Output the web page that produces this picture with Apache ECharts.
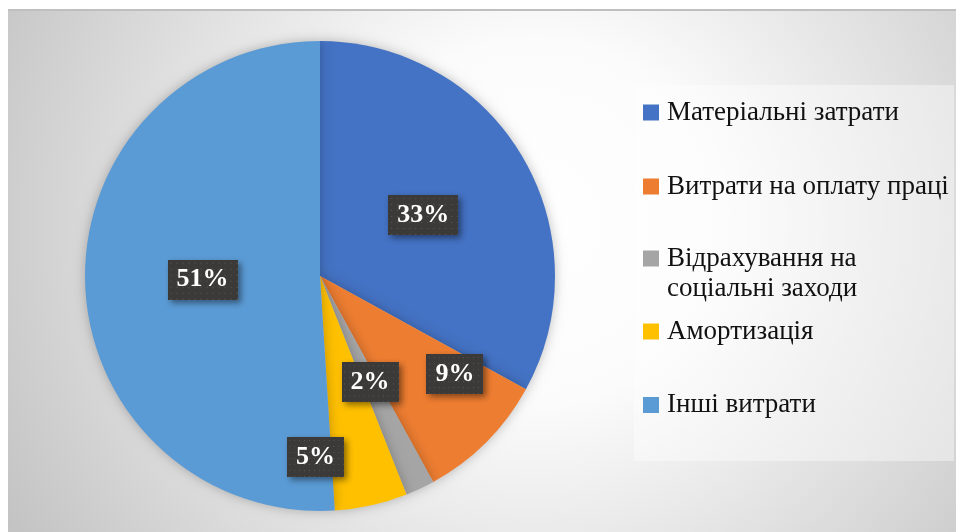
<!DOCTYPE html>
<html>
<head>
<meta charset="utf-8">
<script src="https://cdn.jsdelivr.net/npm/echarts@6/dist/echarts.min.js"></script>
<style>
    html, body { margin: 0; padding: 0; background: #ffffff; }
    #chart { width: 956px; height: 532px; }
</style>
</head>
<body>
<div id="chart"></div>
<script>
// категорії витрат
const categories = [
    "Матеріальні затрати",
    "Витрати на оплату праці",
    "Відрахування на соціальні заходи",
    "Амортизація",
    "Інші витрати"
];
// частки, %
const shares = [33, 9, 2, 5, 51];
const colors = ["#4472C4", "#ED7D31", "#A5A5A5", "#FFC000", "#5B9BD5"];
// як підписи легенди розбиті на рядки
const legendText = [
    "Матеріальні затрати",
    "Витрати на оплату праці",
    "\nВідрахування на\nсоціальні заходи",
    "Амортизація",
    "Інші витрати"
];

const CX = 320, CY = 276, R = 235;
// де стоїть підпис: частка радіуса і зсув кута від середини сектора (градуси)
const labelRadius = [0.51, 0.71, 0.5, 0.77, 0.5];
const labelTurn = [0, -9, 0, 14, 0];
// центри значків легенди по вертикалі
const legendY = [112.5, 186.5, 258.5, 331.5, 405];

// темний фон підписів у крапку
function dotPattern() {
    const c = document.createElement("canvas");
    c.width = 70;
    c.height = 40;
    const g = c.getContext("2d");
    g.fillStyle = "#3b3a39";
    g.fillRect(0, 0, 70, 40);
    g.fillStyle = "#5c5a58";
    for (let y = 3; y < 40; y += 6) {
        for (let x = 3; x < 70; x += 6) {
            g.fillRect(x, y, 1, 1);
        }
    }
    return c;
}
const pattern = dotPattern();

const chart = echarts.init(document.getElementById("chart"));

const legends = categories.map((name, i) => {
    const lines = legendText[i].split("\n").length;
    return {
        data: [name],
        orient: "vertical",
        left: 643,
        top: legendY[i] - lines * 15,
        padding: 0,
        itemWidth: 16,
        itemHeight: 16,
        icon: "rect",
        selectedMode: false,
        formatter: () => legendText[i],
        textStyle: {
            fontFamily: "Liberation Serif",
            fontSize: 27,
            lineHeight: 30,
            color: "#111111",
            padding: [0, 0, 0, 3]
        }
    };
});

const option = {
    backgroundColor: "#ffffff",
    animation: false,
    color: colors,
    graphic: [
        {
            type: "rect",
            z: -10,
            shape: { x: 8, y: 10, width: 960, height: 530 },
            style: {
                fill: {
                    type: "radial",
                    x: 0.55,
                    y: 0.4,
                    r: 1.15,
                    colorStops: [
                        { offset: 0, color: "#ffffff" },
                        { offset: 0.3, color: "#fbfbfb" },
                        { offset: 1, color: "#c3c3c3" }
                    ]
                }
            }
        },
        {
            type: "rect",
            z: -9,
            shape: { x: 8, y: 9, width: 960, height: 2 },
            style: { fill: "#bfbfbf" }
        },
        {
            type: "rect",
            z: -8,
            shape: { x: 634, y: 85, width: 320, height: 376 },
            style: { fill: "rgba(255,255,255,0.4)" }
        }
    ],
    legend: legends,
    series: [
        {
            type: "pie",
            center: [CX, CY],
            radius: [0, R],
            startAngle: 90,
            clockwise: true,
            itemStyle: {
                shadowColor: "rgba(0,0,0,0.25)",
                shadowBlur: 12
            },
            label: {
                show: true,
                position: "inside",
                formatter: "{c}%",
                fontFamily: "Liberation Serif",
                fontWeight: "bold",
                fontSize: 26,
                color: "#ffffff",
                backgroundColor: { image: pattern },
                padding: [8, 9, 6, 9],
                shadowColor: "rgba(0,0,0,0.45)",
                shadowBlur: 6,
                shadowOffsetX: 3,
                shadowOffsetY: 3
            },
            labelLine: { show: false },
            labelLayout: function (p) {
                const r = p.labelRect;
                const lx = r.x + r.width / 2;
                const ly = r.y + r.height / 2;
                const a = Math.atan2(lx - CX, CY - ly) + labelTurn[p.dataIndex] * Math.PI / 180;
                const d = labelRadius[p.dataIndex] * R;
                return {
                    dx: CX + d * Math.sin(a) - lx,
                    dy: CY - d * Math.cos(a) - ly
                };
            },
            emphasis: { disabled: true },
            data: categories.map((name, i) => ({ name: name, value: shares[i] }))
        }
    ]
};

chart.setOption(option);
</script>
</body>
</html>
